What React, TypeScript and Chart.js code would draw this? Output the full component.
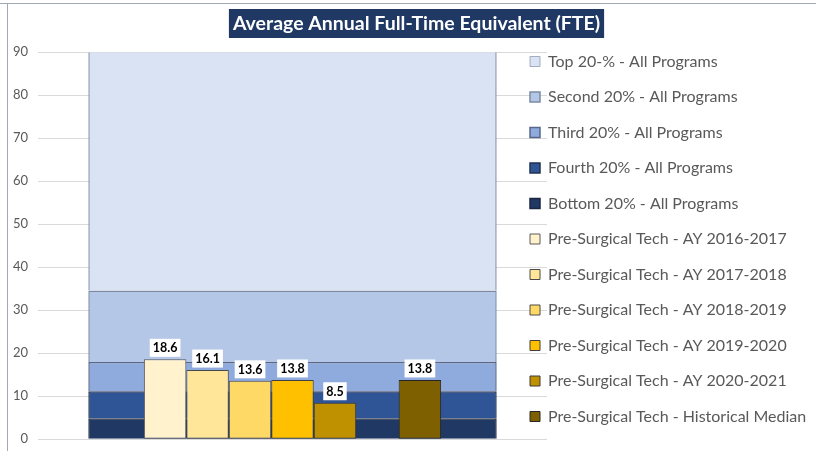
import React, { useEffect, useRef } from "react";
import { Chart, registerables } from "chart.js";

Chart.register(...registerables);

const TITLE = "Average Annual Full-Time Equivalent (FTE)";
const CATEGORIES = [""];

// Quintile bands (segment heights, bottom to top)
const BAND_LABELS = [
  "Bottom 20% - All Programs",
  "Fourth 20% - All Programs",
  "Third 20% - All Programs",
  "Second 20% - All Programs",
  "Top 20-% - All Programs",
];
const BAND_VALUES = [4.9, 6.3, 6.8, 16.6, 55.4];
const BAND_COLORS = ["#203864", "#2F5597", "#8FAADC", "#B4C7E7", "#DAE3F3"];
const BAND_BORDERS = ["#1A2640", "#22324F", "#56678A", "#7B8AA4", "#8A97AD"];

// Program bars
const PRE_LABELS = [
  "Pre-Surgical Tech - AY 2016-2017",
  "Pre-Surgical Tech - AY 2017-2018",
  "Pre-Surgical Tech - AY 2018-2019",
  "Pre-Surgical Tech - AY 2019-2020",
  "Pre-Surgical Tech - AY 2020-2021",
  "",
  "Pre-Surgical Tech - Historical Median",
];
const PRE_VALUES: (number | null)[] = [18.6, 16.1, 13.6, 13.8, 8.5, null, 13.8];
const PRE_COLORS = ["#FFF2CC", "#FFE699", "#FFD966", "#FFC000", "#BF9000", "#ffffff", "#7F6000"];
const PRE_BORDERS = ["#5a5a5a", "#4a4a4a", "#4a4a4a", "#3f3f3f", "#3a3a3a", "#ffffff", "#262626"];

const Y_TICKS = [0, 10, 20, 30, 40, 50, 60, 70, 80, 90];

const LEGEND_ORDER = [...BAND_LABELS].reverse().concat(PRE_LABELS.filter((l) => l !== ""));

const FONT = "Lato, 'Open Sans', sans-serif";

const decorPlugin = {
  id: "decor",
  beforeLayout(chart: any) {
    const lg = chart.legend;
    if (lg && !lg.__patched) {
      const f = lg.fit;
      lg.fit = function () {
        f.call(this);
        this.width = 269;
      };
      lg.__patched = true;
    }
  },
  afterLayout(chart: any) {
    const lg = chart.legend;
    if (lg) {
      lg.left = 510.5;
      lg.right = 830;
      lg.width = lg.right - lg.left;
      lg.top = 34;
      lg.bottom = 470;
      lg.height = lg.bottom - lg.top;
    }
    const tb = chart.titleBlock;
    if (tb) {
      tb.left = 0;
      tb.right = 833;
      tb.width = 833;
    }
  },
  beforeDraw(chart: any) {
    const ctx = chart.ctx;
    ctx.save();
    ctx.strokeStyle = "#a3a8b8";
    ctx.lineWidth = 1;
    ctx.beginPath();
    ctx.moveTo(0, 3.5);
    ctx.lineTo(chart.width, 3.5);
    ctx.moveTo(7.5, 3);
    ctx.lineTo(7.5, chart.height);
    ctx.stroke();
    const tb = chart.titleBlock;
    if (tb) {
      const opts = tb.options;
      const size = opts.font.size;
      ctx.font = `bold ${size}px ${FONT}`;
      const w = ctx.measureText(TITLE).width;
      const lh = size * 1.2;
      const cx = (tb.left + tb.right) / 2;
      const cy = tb.top + tb._padding.top + lh / 2;
      ctx.fillStyle = "#1F3864";
      ctx.fillRect(cx - w / 2 - 4, cy - 14.5, w + 8, 29);
    }
    ctx.restore();
  },
  afterDatasetsDraw(chart: any) {
    const ctx = chart.ctx;
    ctx.save();
    ctx.font = `bold 12.5px ${FONT}`;
    ctx.textAlign = "center";
    ctx.textBaseline = "middle";
    chart.data.datasets.forEach((ds: any, i: number) => {
      if (ds.stack === "band") return;
      const meta = chart.getDatasetMeta(i);
      meta.data.forEach((el: any, j: number) => {
        const v = ds.data[j];
        if (v == null) return;
        const text = Number(v).toFixed(1);
        const w = ctx.measureText(text).width + 6;
        const h = 18;
        const top = el.y - 2.5 - h;
        ctx.fillStyle = "#ffffff";
        ctx.fillRect(el.x - w / 2, top, w, h);
        ctx.fillStyle = "#000000";
        ctx.fillText(text, el.x, top + h / 2 + 0.5);
      });
    });
    ctx.restore();
  },
};

export default function App() {
  const ref = useRef<HTMLCanvasElement | null>(null);

  useEffect(() => {
    document.body.style.margin = "0";
    const canvas = ref.current;
    if (!canvas) return;

    const preSets = PRE_VALUES.map((v, i) => ({
      label: PRE_LABELS[i],
      data: [v],
      backgroundColor: PRE_COLORS[i],
      borderColor: PRE_BORDERS[i],
      borderWidth: 1,
      borderSkipped: false,
      xAxisID: "x",
      yAxisID: "y",
      categoryPercentage: 0.584,
      barPercentage: 1,
    }));
    const lastBand = BAND_VALUES.length - 1;
    const bandSets = BAND_VALUES.map((v, i) => ({
      label: BAND_LABELS[i],
      data: [v],
      backgroundColor: BAND_COLORS[i],
      borderColor: BAND_BORDERS[i],
      borderWidth: i === lastBand ? { top: 0, bottom: 0, left: 1.5, right: 1.5 } : 1.5,
      borderSkipped: "bottom",
      xAxisID: "x",
      yAxisID: "y",
      stack: "band",
      grouped: false,
      categoryPercentage: 0.8024,
      barPercentage: 1,
    }));

    const chart = new Chart(canvas, {
      type: "bar",
      data: { labels: CATEGORIES, datasets: [...preSets, ...bandSets] as any },
      plugins: [decorPlugin as any],
      options: {
        animation: false,
        responsive: false,
        devicePixelRatio: 1,
        layout: { padding: { left: 0, right: 0, top: 0, bottom: 11.7 } },
        font: { family: FONT },
        scales: {
          x: { type: "category", display: false },
          y: {
            min: 0,
            max: 90,
            afterFit: (s: any) => {
              s.width = 38;
              s.paddingBottom = 0;
              s.paddingTop = 0;
            },
            afterBuildTicks: (s: any) => {
              s.ticks = Y_TICKS.map((v) => ({ value: v }));
            },
            border: { display: false },
            grid: { color: "#d9d9d9", drawTicks: false, lineWidth: 1 },
            ticks: { padding: 10, color: "#595959", font: { family: FONT, size: 13 } },
          },
        },
        plugins: {
          tooltip: { enabled: false },
          title: {
            display: true,
            text: TITLE,
            color: "#ffffff",
            font: { family: FONT, size: 19.5, weight: "bold", lineHeight: 1.2 },
            padding: { top: 11.8, bottom: 17.1 },
          },
          legend: {
            display: true,
            position: "right",
            align: "start",
            labels: {
              boxWidth: 10,
              boxHeight: 10,
              padding: 19.5,
              color: "#595959",
              font: { family: FONT, size: 16 },
              filter: (item: any) => item.text !== "",
              sort: (a: any, b: any) => LEGEND_ORDER.indexOf(a.text) - LEGEND_ORDER.indexOf(b.text),
            },
          },
        },
      } as any,
    });
    return () => chart.destroy();
  }, []);

  return (
    <div style={{ position: "fixed", left: 0, top: 0, width: 816, height: 451 }}>
      <canvas ref={ref} width={816} height={451} style={{ display: "block", width: 816, height: 451 }} />
    </div>
  );
}
